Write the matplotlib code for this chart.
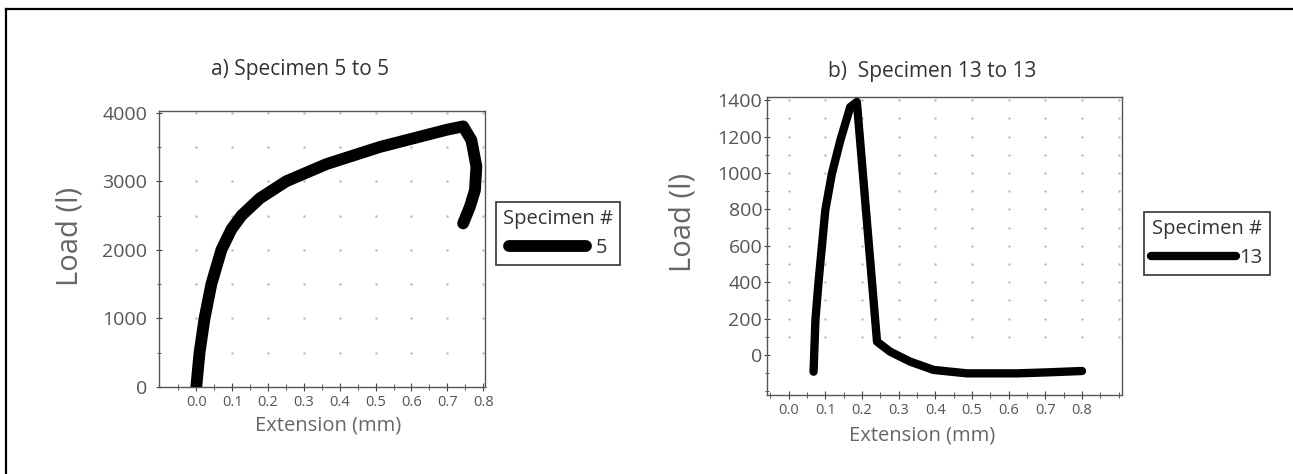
import numpy as np
import matplotlib
matplotlib.use("Agg")
import matplotlib.pyplot as plt
from matplotlib.lines import Line2D

plt.rcParams['font.family'] = ['Open Sans', 'DejaVu Sans']

# specimen 5
ext_5 = [0.0, 0.009, 0.023, 0.042, 0.070, 0.098, 0.126, 0.177, 0.251, 0.363,
         0.512, 0.698, 0.744, 0.767, 0.781, 0.777, 0.763, 0.744]
load_5 = [0, 500, 1000, 1500, 2000, 2300, 2500, 2750, 3000, 3250,
          3500, 3750, 3800, 3600, 3215, 2870, 2630, 2385]

# specimen 13
ext_13 = [0.068, 0.073, 0.082, 0.091, 0.100, 0.118, 0.141, 0.168, 0.186,
          0.241, 0.277, 0.332, 0.395, 0.486, 0.623, 0.714, 0.800]
load_13 = [-92, 192, 412, 604, 796, 997, 1180, 1363, 1391,
           73, 18, -37, -82, -101, -101, -95, -88]

x_ticks = [0.0, 0.1, 0.2, 0.3, 0.4, 0.5, 0.6, 0.7, 0.8]
y_ticks_5 = [0, 1000, 2000, 3000, 4000]
y_ticks_13 = [0, 200, 400, 600, 800, 1000, 1200, 1400]

W, H = 1293, 474
fig = plt.figure(figsize=(W / 100, H / 100), dpi=100)

tick_col = '#555555'
lab_col = '#666666'


def fx(px):
    return px / W


def fy(py):
    return 1 - py / H


def setup(ax, xlim, ylim, yticks, ystep, ypad):
    ax.set_xticks(x_ticks)
    ax.set_xticks(np.arange(-0.05, xlim[1], 0.05), minor=True)
    ax.set_yticks(yticks)
    ystep_minor = (yticks[1] - yticks[0]) / 2
    ax.set_yticks(np.arange(ylim[0] - ylim[0] % ystep_minor, ylim[1], ystep_minor), minor=True)
    ax.set_xticklabels(['%.1f' % t for t in x_ticks])
    ax.set_xlim(*xlim)
    ax.set_ylim(*ylim)
    ax.tick_params(axis='both', which='both', direction='inout', color='#444444',
                   labelcolor=tick_col)
    ax.tick_params(axis='x', which='major', length=6, labelsize=10.5, pad=3)
    ax.tick_params(axis='x', which='minor', length=4)
    ax.tick_params(axis='y', which='major', length=5, labelsize=14, pad=ypad)
    ax.tick_params(axis='y', which='minor', length=3)
    for s in ax.spines.values():
        s.set_color('#555555')
        s.set_linewidth(1.0)
    # faint dotted grid, dots only at crossings
    gx = np.arange(0.0, xlim[1], 0.1)
    gy = np.arange(ystep, ylim[1], ystep)
    XX, YY = np.meshgrid(gx, gy)
    ax.scatter(XX.ravel(), YY.ravel(), s=3, color='#bbbbbb', zorder=1, linewidths=0)


# ---- a) specimen 5
ax1 = fig.add_axes([fx(159), fy(387), fx(326), 276 / H])
setup(ax1, (-0.104, 0.805), (0, 4024), y_ticks_5, 500, 6)
ax1.plot(ext_5, load_5, color='black', lw=8.5, solid_capstyle='round',
         solid_joinstyle='round', zorder=3, label='5')

# ---- b) specimen 13
ax2 = fig.add_axes([fx(767), fy(395), fx(355), 298 / H])
setup(ax2, (-0.059, 0.909), (-220, 1418), y_ticks_13, 100, 1)
ax2.plot(ext_13, load_13, color='black', lw=6, solid_capstyle='round',
         solid_joinstyle='round', zorder=3, label='13')

# titles / labels
fig.text(fx(300), fy(69), 'a) Specimen 5 to 5', ha='center', va='center',
         fontsize=15, color='#333333')
fig.text(fx(932), fy(72), 'b)  Specimen 13 to 13', ha='center', va='center',
         fontsize=15, color='#333333')
fig.text(fx(328), fy(426), 'Extension (mm)', ha='center', va='center',
         fontsize=14.5, color=lab_col)
fig.text(fx(922), fy(436), 'Extension (mm)', ha='center', va='center',
         fontsize=14.5, color=lab_col)
fig.text(fx(70), fy(236), 'Load (l)', ha='center', va='center', rotation=90,
         fontsize=21, color=lab_col)
fig.text(fx(683), fy(222), 'Load (l)', ha='center', va='center', rotation=90,
         fontsize=21, color=lab_col)

for ax, x0, y0, hl, tp in [(ax1, 496, 202, 3.8, 0.5), (ax2, 1144, 212, 4.2, 0.2)]:
    leg = fig.legend(handles=ax.get_lines(), title='Specimen #', loc='upper left',
                     bbox_to_anchor=(fx(x0), fy(y0)), fontsize=14.5, title_fontsize=14.5,
                     handlelength=hl, handletextpad=tp, borderpad=0.35,
                     labelspacing=0.45, fancybox=False, edgecolor='#333333',
                     framealpha=1, borderaxespad=0)
    leg.get_frame().set_linewidth(1.2)
    leg.get_title().set_color('#333333')
    for t in leg.get_texts():
        t.set_color('#333333')

# page frame
fig.add_artist(Line2D([fx(6), fx(6)], [fy(9), 0], color='black', lw=1.6))
fig.add_artist(Line2D([fx(6), 1], [fy(9), fy(9)], color='black', lw=1.6))

fig.savefig('out.png', dpi=100)
